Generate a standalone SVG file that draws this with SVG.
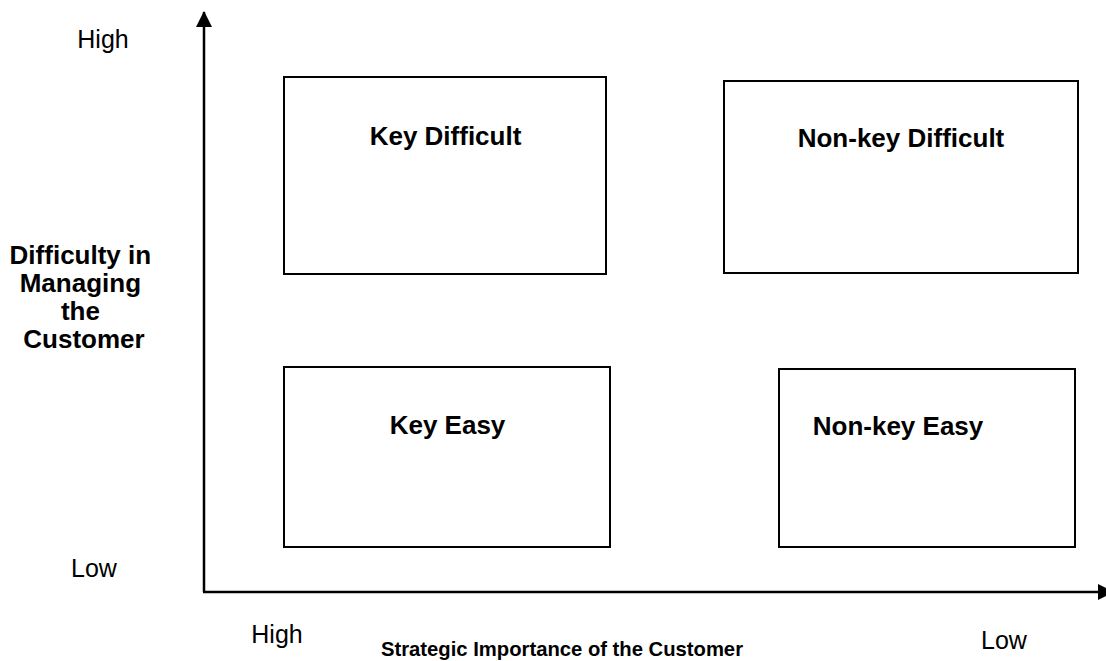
<svg xmlns="http://www.w3.org/2000/svg" width="1106" height="661" viewBox="0 0 1106 661">
  <style>
    .box { fill: #ffffff; stroke: #000000; stroke-width: 2; }
    .axis { fill: none; stroke: #000000; stroke-width: 2.5; }
    .bold { font-family: "Liberation Sans", Arial, sans-serif; font-weight: bold; font-size: 26px; fill: #000000; }
    .title { font-family: "Liberation Sans", Arial, sans-serif; font-weight: bold; font-size: 21px; fill: #000000; }
    .reg { font-family: "Liberation Sans", Arial, sans-serif; font-size: 25px; fill: #000000; }
  </style>
  <defs>
    <marker id="arrow" markerUnits="userSpaceOnUse" markerWidth="16" markerHeight="16" refX="15" refY="8" orient="auto">
      <path d="M0,0 L16,8 L0,16 Z" fill="#000000"/>
    </marker>
  </defs>
  <rect width="1106" height="661" fill="#ffffff"/>

  <!-- axes -->
  <g id="connectors">
    <line class="axis" x1="204" y1="592" x2="204" y2="12" marker-end="url(#arrow)"/>
    <line class="axis" x1="203" y1="592" x2="1113" y2="592" marker-end="url(#arrow)"/>
  </g>

  <!-- axis labels -->
  <g id="y-axis-labels">
    <text class="reg" x="103" y="48" text-anchor="middle">High</text>
    <text class="reg" x="94" y="577" text-anchor="middle">Low</text>
    <text class="bold" text-anchor="middle">
      <tspan x="84" y="264">Difficulty in</tspan>
      <tspan x="84" y="292">Managing</tspan>
      <tspan x="84" y="320">the</tspan>
      <tspan x="84" y="348">Customer</tspan>
    </text>
  </g>
  <g id="x-axis-labels">
    <text class="reg" x="277" y="643" text-anchor="middle">High</text>
    <text class="reg" x="1004" y="649" text-anchor="middle">Low</text>
    <text class="title" x="381" y="656" textLength="362" lengthAdjust="spacingAndGlyphs">Strategic Importance of the Customer</text>
  </g>

  <!-- quadrants -->
  <g id="key-difficult">
    <rect class="box" x="284" y="77" width="322" height="197"/>
    <text class="bold" x="445.5" y="145" text-anchor="middle">Key Difficult</text>
  </g>
  <g id="nonkey-difficult">
    <rect class="box" x="724" y="81" width="354" height="192"/>
    <text class="bold" x="901" y="147" text-anchor="middle">Non-key Difficult</text>
  </g>
  <g id="key-easy">
    <rect class="box" x="284" y="367" width="326" height="180"/>
    <text class="bold" x="447.5" y="434" text-anchor="middle">Key Easy</text>
  </g>
  <g id="nonkey-easy">
    <rect class="box" x="779" y="369" width="296" height="178"/>
    <text class="bold" x="898" y="435" text-anchor="middle">Non-key Easy</text>
  </g>
</svg>
